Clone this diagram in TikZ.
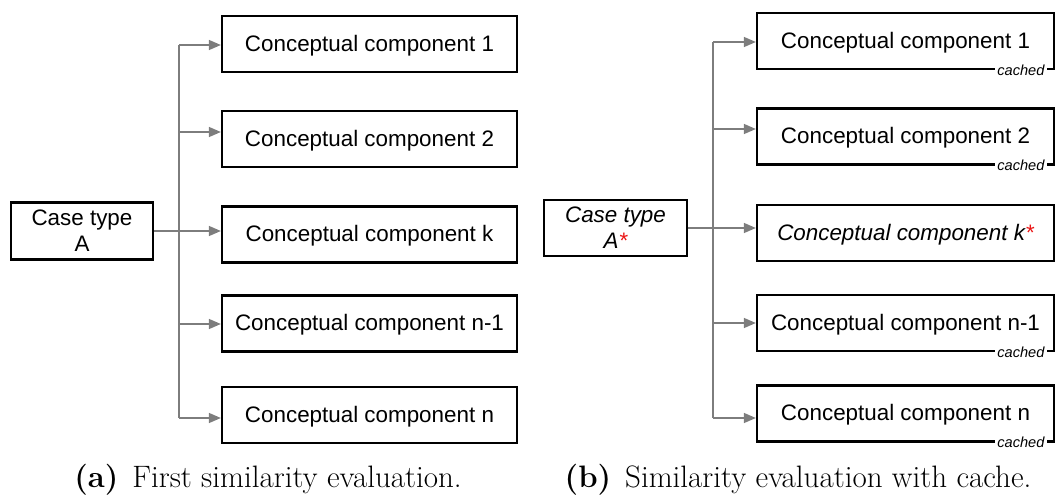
\documentclass[tikz,border=0pt]{standalone}
\usepackage{fontspec}
\usetikzlibrary{arrows.meta}
\newfontfamily\diagfont{Liberation Sans}
\definecolor{linkgray}{RGB}{125,125,125}
\definecolor{starred}{RGB}{235,20,20}
\begin{document}
\begin{tikzpicture}[x=1pt,y=-1pt,
  box/.style={draw=black,line width=2.3pt,fill=white,inner sep=0pt,align=center,
    font=\diagfont\fontsize{22.4}{26}\selectfont},
  comp/.style={box,minimum height=56pt,text height=19.5pt,text depth=5pt},
  compL/.style={comp,minimum width=295pt},
  compR/.style={comp,minimum width=297pt},
  casebox/.style={box,minimum width=142pt,minimum height=57pt},
  link/.style={draw=linkgray,line width=1.5pt},
  arr/.style={link,-{Triangle[length=12pt,width=10pt]}},
  cachetag/.style={fill=white,inner xsep=2.5pt,inner ysep=1pt,anchor=east,
    font=\diagfont\itshape\fontsize{14.6}{16}\selectfont},
  caption/.style={font=\fontsize{31}{34}\selectfont,anchor=base}]
\useasboundingbox (0,0) rectangle (1057,497);

% ---------- (a) first similarity evaluation ----------
\node[casebox] (caseA) at (82,231) {Case type\\A};
\node[compL] (L1) at (369.5,44)  {Conceptual component 1};
\node[compL] (L2) at (369.5,139) {Conceptual component 2};
\node[compL] (Lk) at (369.5,234.5) {Conceptual component k};
\node[compL] (Ln1) at (369.5,323.5) {Conceptual component n-1};
\node[compL] (Ln) at (369.5,415) {Conceptual component n};

\coordinate (la1) at (179,45);
\coordinate (la2) at (179,132);
\coordinate (la4) at (179,324);
\coordinate (la5) at (179,418);
\draw[link] (la1) -- (la5);
\draw[arr] (la1) -- (L1.west |- la1);
\draw[arr] (la2) -- (L2.west |- la2);
\draw[arr] (caseA.east) -- (Lk.west |- caseA.east);
\draw[arr] (la4) -- (Ln1.west |- la4);
\draw[arr] (la5) -- (Ln.west |- la5);

% ---------- (b) similarity evaluation with cache ----------
\node[casebox,minimum width=143pt,minimum height=56pt] (caseB) at (615.5,228)
  {\itshape Case type\\\itshape A\textcolor{starred}{*}};
\node[compR] (R1) at (905.5,41)    {Conceptual component 1};
\node[compR] (R2) at (905.5,136.5) {Conceptual component 2};
\node[compR] (Rk) at (905.5,233)   {\itshape Conceptual component k\textcolor{starred}{*}};
\node[compR] (Rn1) at (905.5,323)  {Conceptual component n-1};
\node[compR] (Rn) at (905.5,413.5) {Conceptual component n};

\coordinate (rb1) at (713,42);
\coordinate (rb2) at (713,129);
\coordinate (rb4) at (713,323);
\coordinate (rb5) at (713,418);
\draw[link] (rb1) -- (rb5);
\draw[arr] (rb1) -- (R1.west |- rb1);
\draw[arr] (rb2) -- (R2.west |- rb2);
\draw[arr] (caseB.east) -- (Rk.west |- caseB.east);
\draw[arr] (rb4) -- (Rn1.west |- rb4);
\draw[arr] (rb5) -- (Rn.west |- rb5);

% cache markers sitting on the lower border
\node[cachetag] (c1) at ([xshift=-8pt]R1.south east) {cached};
\node[cachetag] (c2) at ([xshift=-8pt]R2.south east) {cached};
\node[cachetag] (c4) at ([xshift=-8pt]Rn1.south east) {cached};
\node[cachetag] (c5) at ([xshift=-8pt]Rn.south east) {cached};

% ---------- sub-captions ----------
\node[caption] (capA) at (268,487) {\textbf{(a)}\hspace{0.45em}First similarity evaluation.};
\node[caption] (capB) at (798,487) {\textbf{(b)}\hspace{0.45em}Similarity evaluation with cache.};
\end{tikzpicture}
\end{document}
